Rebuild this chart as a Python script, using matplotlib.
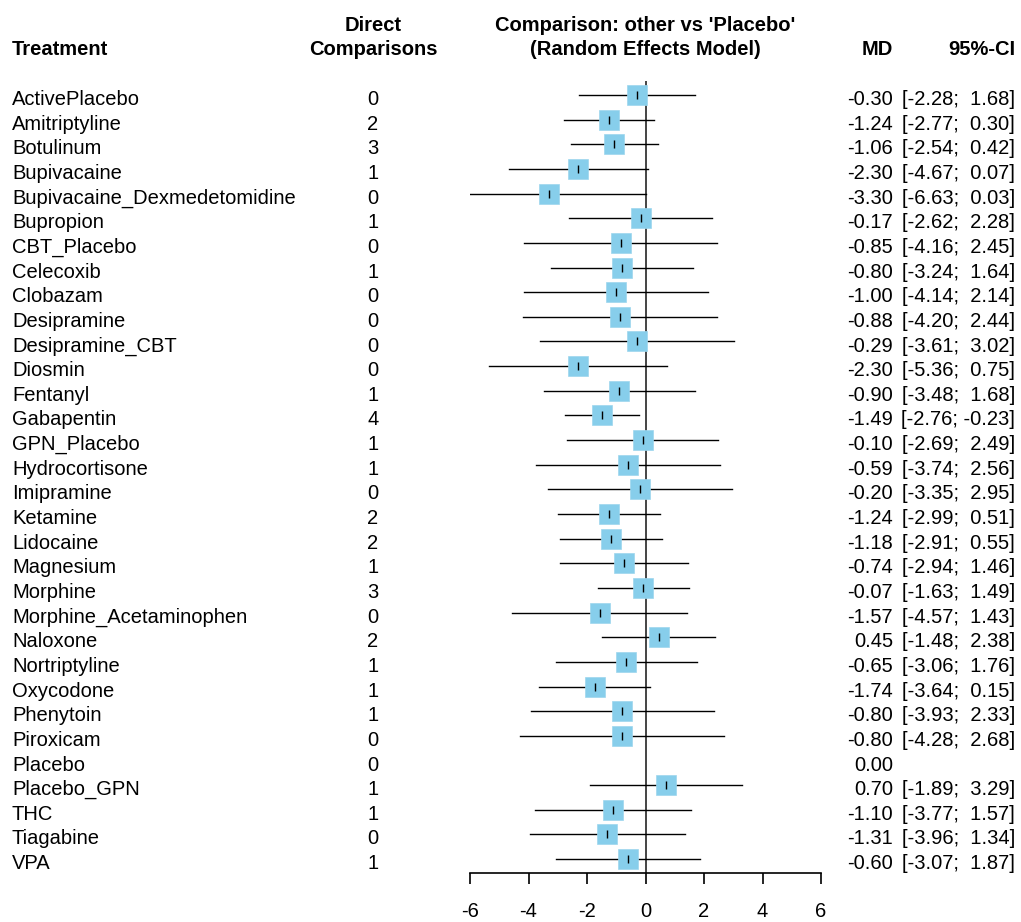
import matplotlib
matplotlib.use('Agg')
import matplotlib.pyplot as plt
import matplotlib.transforms as mtransforms

plt.rcParams['font.family'] = ['Liberation Sans', 'DejaVu Sans']

# --- Datos ---
treatments = ['ActivePlacebo', 'Amitriptyline', 'Botulinum', 'Bupivacaine',
              'Bupivacaine_Dexmedetomidine', 'Bupropion', 'CBT_Placebo', 'Celecoxib',
              'Clobazam', 'Desipramine', 'Desipramine_CBT', 'Diosmin', 'Fentanyl',
              'Gabapentin', 'GPN_Placebo', 'Hydrocortisone', 'Imipramine', 'Ketamine',
              'Lidocaine', 'Magnesium', 'Morphine', 'Morphine_Acetaminophen', 'Naloxone',
              'Nortriptyline', 'Oxycodone', 'Phenytoin', 'Piroxicam', 'Placebo',
              'Placebo_GPN', 'THC', 'Tiagabine', 'VPA']
direct = [0, 2, 3, 1, 0, 1, 0, 1, 0, 0, 0, 0, 1, 4, 1, 1, 0, 2, 2, 1, 3, 0, 2, 1, 1, 1, 0, 0,
          1, 1, 0, 1]
md = [-0.30, -1.24, -1.06, -2.30, -3.30, -0.17, -0.85, -0.80, -1.00, -0.88, -0.29, -2.30,
      -0.90, -1.49, -0.10, -0.59, -0.20, -1.24, -1.18, -0.74, -0.07, -1.57, 0.45, -0.65,
      -1.74, -0.80, -0.80, 0.00, 0.70, -1.10, -1.31, -0.60]
lower = [-2.28, -2.77, -2.54, -4.67, -6.63, -2.62, -4.16, -3.24, -4.14, -4.20, -3.61, -5.36,
         -3.48, -2.76, -2.69, -3.74, -3.35, -2.99, -2.91, -2.94, -1.63, -4.57, -1.48, -3.06,
         -3.64, -3.93, -4.28, None, -1.89, -3.77, -3.96, -3.07]
upper = [1.68, 0.30, 0.42, 0.07, 0.03, 2.28, 2.45, 1.64, 2.14, 2.44, 3.02, 0.75, 1.68,
         -0.23, 2.49, 2.56, 2.95, 0.51, 0.55, 1.46, 1.49, 1.43, 2.38, 1.76, 0.15, 2.33, 2.68,
         None, 3.29, 1.57, 1.34, 1.87]
x_ticks = [-6, -4, -2, 0, 2, 4, 6]

# --- Figura ---
W, H = 1021, 922
fig = plt.figure(figsize=(W / 100, H / 100), dpi=100)

row0, step = 95, 24.65
ax_top, ax_bot = 81, 873
x_left, x_right = 470, 821
ax = fig.add_axes([x_left / W, 1 - ax_bot / H, (x_right - x_left) / W, (ax_bot - ax_top) / H])
ax.set_xlim(-6, 6)
ax.set_ylim((ax_bot - row0) / step, (ax_top - row0) / step)

n = len(treatments)
fs = 14.5
for i in range(n):
    if lower[i] is not None:
        ax.plot([lower[i], upper[i]], [i, i], color='black', lw=1.0, zorder=2)
        ax.plot(md[i], i, marker='s', ms=14.4, color='#87CEEB', mec='#9dd6ee', mew=0.5,
                zorder=3)
        ax.plot(md[i], i, marker='|', ms=6, color='black', mew=1.0, zorder=4)

ax.axvline(0, color='#444444', lw=1.4, zorder=1)

for s in ['top', 'right', 'left']:
    ax.spines[s].set_visible(False)
ax.spines['bottom'].set_bounds(-6, 6)
ax.spines['bottom'].set_linewidth(1.2)
ax.set_yticks([])
ax.set_xticks(x_ticks)
ax.set_xticklabels([str(t) for t in x_ticks], fontsize=fs)
ax.tick_params(axis='x', length=8, width=1.2, pad=13)
ax.patch.set_visible(False)

# --- Textos (línea base 10 px por debajo del centro de la fila) ---
trans = mtransforms.blended_transform_factory(fig.transFigure, ax.transData)
trans = mtransforms.offset_copy(trans, fig=fig, y=-10, units='dots')
for i in range(n):
    ax.text(12 / W, i, treatments[i], transform=trans, ha='left', va='baseline', fontsize=fs)
    ax.text(373 / W, i, str(direct[i]), transform=trans, ha='center', va='baseline',
            fontsize=fs)
    ax.text(893 / W, i, f'{md[i]:.2f}', transform=trans, ha='right', va='baseline',
            fontsize=fs)
    if lower[i] is not None:
        ax.text(1015 / W, i, f'[{lower[i]:.2f}; {upper[i]:5.2f}]', transform=trans,
                ha='right', va='baseline', fontsize=fs)

y1, y2 = 1 - 31 / H, 1 - 55 / H
hdr = dict(va='baseline', fontsize=fs, fontweight='bold')
fig.text(12 / W, y2, 'Treatment', ha='left', **hdr)
fig.text(373 / W, y1, 'Direct', ha='center', **hdr)
fig.text(373 / W, y2, 'Comparisons', ha='center', **hdr)
fig.text(645 / W, y1, "Comparison: other vs 'Placebo'", ha='center', **hdr)
fig.text(645 / W, y2, '(Random Effects Model)', ha='center', **hdr)
fig.text(893 / W, y2, 'MD', ha='right', **hdr)
fig.text(1015 / W, y2, '95%-CI', ha='right', **hdr)

fig.savefig('out.png', dpi=100)
